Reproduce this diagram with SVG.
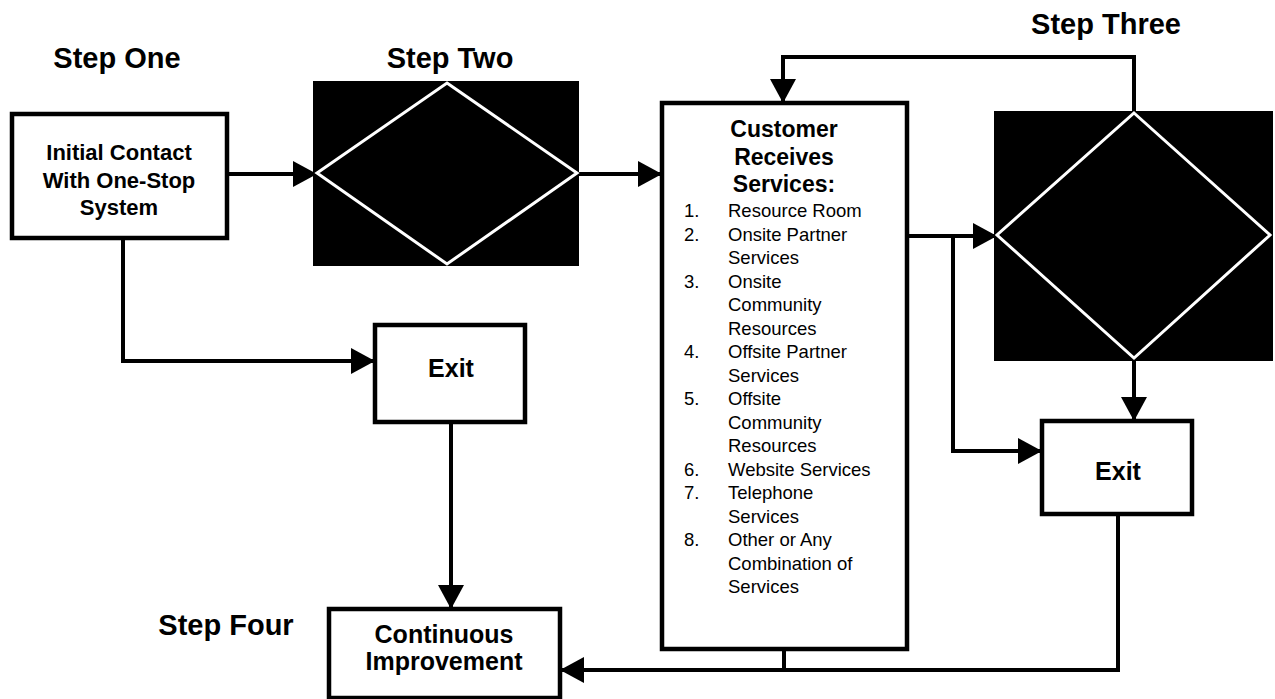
<svg xmlns="http://www.w3.org/2000/svg" width="1275" height="699" viewBox="0 0 1275 699">
<style>
.box{fill:#fff;stroke:#000;stroke-width:4.5}
.blk{fill:#000}
.dia{fill:none;stroke:#fff;stroke-width:3}
.con{fill:none;stroke:#000;stroke-width:4}
.step{font-family:"Liberation Sans",Arial,sans-serif;font-weight:bold;font-size:29px;fill:#000}
.lbl{font-family:"Liberation Sans",Arial,sans-serif;font-weight:bold;font-size:22px;fill:#000;text-anchor:middle}
.lbl2{font-family:"Liberation Sans",Arial,sans-serif;font-weight:bold;font-size:25px;fill:#000;text-anchor:middle}
.li{font-family:"Liberation Sans",Arial,sans-serif;font-size:18.5px;fill:#000}
</style>
<defs>
<marker id="ah" markerUnits="userSpaceOnUse" markerWidth="24" markerHeight="26" refX="24" refY="13" orient="auto">
<path d="M0,0 L24,13 L0,26 Z" fill="#000"/>
</marker>
</defs>
<rect width="1275" height="699" fill="#fff"/>
<g id="labels">
<text class="step" x="117" y="68" text-anchor="middle">Step One</text>
<text class="step" x="450" y="68" text-anchor="middle">Step Two</text>
<text class="step" x="1106" y="34" text-anchor="middle">Step Three</text>
<text class="step" x="226" y="635" text-anchor="middle">Step Four</text>
</g>
<g id="connectors">
<path class="con" d="M227,174 H317" marker-end="url(#ah)"/>
<path class="con" d="M579,174 H662" marker-end="url(#ah)"/>
<path class="con" d="M906,236 H997" marker-end="url(#ah)"/>
<path class="con" d="M953,236 V451 H1042" marker-end="url(#ah)"/>
<path class="con" d="M1134,358 V421" marker-end="url(#ah)"/>
<path class="con" d="M1134,113 V57 H783 V103" marker-end="url(#ah)"/>
<path class="con" d="M123,238 V361 H375" marker-end="url(#ah)"/>
<path class="con" d="M451,417 V609" marker-end="url(#ah)"/>
<path class="con" d="M1118,504 V670 H560" marker-end="url(#ah)"/>
<path class="con" d="M784,641 V670"/>
</g>
<g id="step1">
<rect class="box" x="12" y="114" width="215" height="124"/>
<text class="lbl" x="119" y="160">Initial Contact</text>
<text class="lbl" x="119" y="188">With One-Stop</text>
<text class="lbl" x="119" y="215">System</text>
</g>
<g id="step2">
<rect class="blk" x="313" y="81" width="266" height="185"/>
<path class="dia" d="M447,83 L577,173 L447,264 L317,173 Z"/>
</g>
<g id="customer">
<rect class="box" x="662" y="103" width="245" height="546"/>
<text class="lbl" x="784" y="137" style="font-size:23px">Customer</text>
<text class="lbl" x="784" y="165" style="font-size:23px">Receives</text>
<text class="lbl" x="784" y="192" style="font-size:23px">Services:</text>
<g class="li">
<text x="684" y="217">1.</text><text x="728" y="217">Resource Room</text>
<text x="684" y="240.5">2.</text><text x="728" y="240.5">Onsite Partner</text>
<text x="728" y="264">Services</text>
<text x="684" y="287.5">3.</text><text x="728" y="287.5">Onsite</text>
<text x="728" y="311">Community</text>
<text x="728" y="334.5">Resources</text>
<text x="684" y="358">4.</text><text x="728" y="358">Offsite Partner</text>
<text x="728" y="381.5">Services</text>
<text x="684" y="405">5.</text><text x="728" y="405">Offsite</text>
<text x="728" y="428.5">Community</text>
<text x="728" y="452">Resources</text>
<text x="684" y="475.5">6.</text><text x="728" y="475.5">Website Services</text>
<text x="684" y="499">7.</text><text x="728" y="499">Telephone</text>
<text x="728" y="522.5">Services</text>
<text x="684" y="546">8.</text><text x="728" y="546">Other or Any</text>
<text x="728" y="569.5">Combination of</text>
<text x="728" y="593">Services</text>
</g>
</g>
<g id="step3">
<rect class="blk" x="994" y="111" width="279" height="250"/>
<path class="dia" d="M1134,113 L1270,235 L1134,358 L997,235 Z"/>
</g>
<g id="exit1">
<rect class="box" x="375" y="325" width="150" height="97"/>
<text class="lbl2" x="451" y="377">Exit</text>
</g>
<g id="exit2">
<rect class="box" x="1042" y="421" width="150" height="93"/>
<text class="lbl2" x="1118" y="480">Exit</text>
</g>
<g id="step4">
<rect class="box" x="329" y="609" width="231" height="89"/>
<text class="lbl2" x="444" y="643">Continuous</text>
<text class="lbl2" x="444" y="670">Improvement</text>
</g>
</svg>
